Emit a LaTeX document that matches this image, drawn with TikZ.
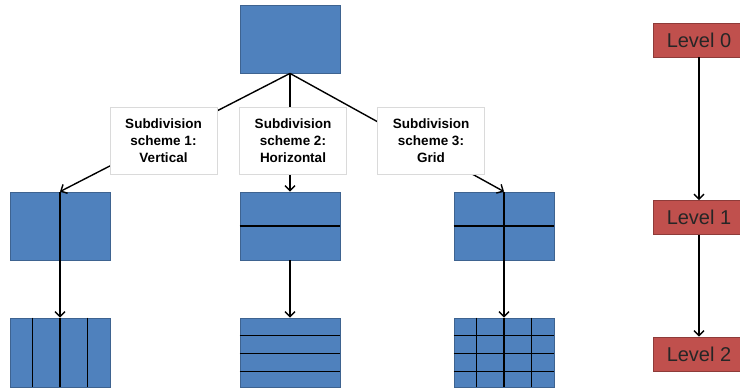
\documentclass[tikz,border=0pt]{standalone}
\usepackage{fontspec}
\setmainfont{Liberation Sans}
\usetikzlibrary{arrows.meta,calc}
\definecolor{cellblue}{HTML}{4F81BD}
\definecolor{celledge}{HTML}{3E6390}
\definecolor{levelred}{HTML}{C0504D}
\definecolor{leveledge}{HTML}{8E3B39}
\definecolor{tagedge}{HTML}{DADADA}
\tikzset{
  cell/.style={draw=celledge, fill=cellblue, line width=0.8pt, inner sep=0pt,
               minimum width=100pt, minimum height=68pt},
  divider/.style={line width=1.2pt, black},
  link/.style={line width=1.4pt, black, -{Straight Barb[length=5pt,width=10pt,line width=1.4pt]}},
  spoke/.style={line width=1.4pt, black},
  tag/.style={draw=tagedge, fill=white, line width=0.8pt, align=center,
              minimum width=107pt, minimum height=67pt, inner sep=0pt,
              font=\fontsize{13.5}{17}\selectfont\bfseries},
  level/.style={draw=leveledge, fill=levelred, line width=0.8pt, inner sep=0pt,
                minimum width=92pt, minimum height=34pt,
                font=\fontsize{20}{24}\selectfont, text=black!85}
}
% vertical divider at fraction #2 of node #1
\newcommand{\vdiv}[2]{\draw[divider] ($(#1.north west)!#2!(#1.north east)$) -- ($(#1.south west)!#2!(#1.south east)$);}
% horizontal divider at fraction #2 of node #1, from the top
\newcommand{\hdiv}[2]{\draw[divider] ($(#1.north west)!#2!(#1.south west)$) -- ($(#1.north east)!#2!(#1.south east)$);}
\begin{document}
\begin{tikzpicture}[x=1pt, y=-1pt]
\useasboundingbox (0,0) rectangle (740,389);
\clip (0,0) rectangle (740,389);

% root block
\node[cell] (root) at (290,39) {};

% first subdivision level
\node[cell] (v1) at (60,226) {};
\node[cell] (h1) at (290,226) {};
\node[cell] (g1) at (504,226) {};
\vdiv{v1}{0.5}
\hdiv{h1}{0.5}
\vdiv{g1}{0.5}
\hdiv{g1}{0.5}

% second subdivision level
\node[cell, minimum height=69pt] (v2) at (60,352.5) {};
\node[cell, minimum height=69pt] (h2) at (290,352.5) {};
\node[cell, minimum height=69pt] (g2) at (504,352.5) {};
\foreach \f in {0.23,0.5,0.77} {\vdiv{v2}{\f}}
\foreach \f in {0.26,0.51,0.77} {\hdiv{h2}{\f}}
\foreach \f in {0.23,0.5,0.77} {\vdiv{g2}{\f}}
\foreach \f in {0.26,0.51,0.77} {\hdiv{g2}{\f}}

% connectors
\draw[link] (root.south) -- (v1.north);
\draw[link] (root.south) -- (h1.north);
\draw[link] (root.south) -- (g1.north);
\draw[link] (v1.south) -- (v2.north);
\draw[link] (h1.south) -- (h2.north);
\draw[link] (g1.south) -- (g2.north);

% scheme labels sitting on the connectors
\node[tag] (s1) at (163.5,140.5) {Subdivision\\scheme 1:\\Vertical};
\node[tag] (s2) at (293,140.5) {Subdivision\\scheme 2:\\Horizontal};
\node[tag] (s3) at (431,140.5) {Subdivision\\scheme 3:\\Grid};

% level ladder
\node[level] (l0) at (699,40) {Level 0};
\node[level] (l1) at (699,217.5) {Level 1};
\node[level] (l2) at (699,354) {Level 2};
\draw[link] (l0) -- (l1);
\draw[link] (l1) -- (l2);
\end{tikzpicture}
\end{document}
